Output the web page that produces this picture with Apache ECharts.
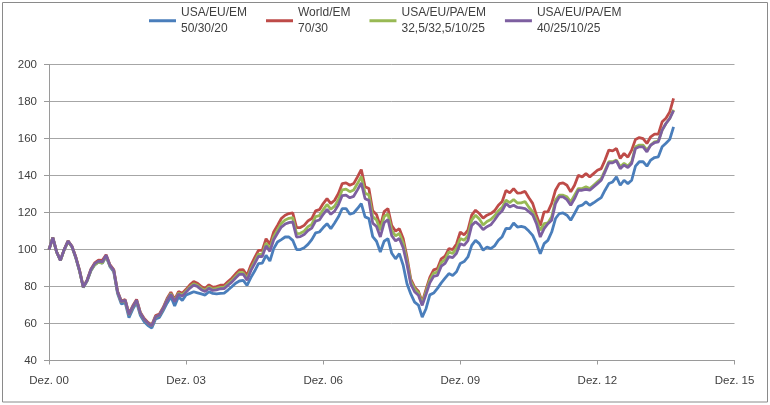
<!DOCTYPE html>
<html>
<head>
<meta charset="utf-8">
<script src="https://cdn.jsdelivr.net/npm/echarts@6/dist/echarts.min.js"></script>
<style>html,body{margin:0;padding:0;background:#fff}#c{width:770px;height:405px}</style>
</head>
<body>
<div id="c"></div>
<script>
// Month index 0 = Dez. 00, 180 = Dez. 15
var xTickLabels = ['Dez. 00','Dez. 03','Dez. 06','Dez. 09','Dez. 12','Dez. 15'];
var yTicks = [40,60,80,100,120,140,160,180,200];
var seriesNames = ['USA/EU/EM\n50/30/20','World/EM\n70/30','USA/EU/PA/EM\n32,5/32,5/10/25','USA/EU/PA/EM\n40/25/10/25'];

var usaEuEm = [100,106.5,98.7,94.2,100,104.5,101.6,95.8,88.5,79.5,83,88.6,91.8,93.2,92.6,96.2,90.8,88,76.2,70.6,71.3,63.2,67.8,71.4,64.3,61,58.9,57.6,62.5,63.3,67,
71,74.5,69.5,74.5,72.5,75.4,76.3,77.2,76.6,76,75.4,77.2,76.3,76,76.3,76.5,78.1,79.9,81.8,83,
83.3,80.6,84.8,88.4,92.4,92.7,96.9,93.8,100.5,104.1,105.4,106.8,106.8,105,100,100,101,102.8,105.4,109,109.5,111.9,114,111.3,114.4,117.7,122.2,122.2,119.1,119.8,122.2,124.9,117.7,116.8,107,104.5,
98.7,104.5,105.9,98,95,97.8,91.5,81.5,76,71.6,70,63.5,68,75.5,76.5,79,82,84.5,87,86,88,92.5,93.5,96,102.3,105,103.2,99.6,101.4,100.5,102,105,107,111.5,111.3,114.4,112.2,112.5,112,110,107.7,103.2,97.8,
103.2,105,109.5,116.8,119.5,119.8,118.6,115.9,119.5,123.4,124,125.8,124,125.3,126.7,128.1,132.1,135.7,136.6,139.3,134.8,137.5,135.7,137.5,145.1,147.5,147.5,145.1,148.4,149.8,150.2,155.6,157.5,159.6,166.4];

var worldEm = [100,106.6,98.8,94.3,100.1,104.7,101.9,96.2,89,79.8,83.5,89.4,92.8,94.3,94.2,97.2,91.8,89.2,77.5,72.2,73,65.3,69.6,73,66,62.7,60.6,59.3,64.3,65.2,68.8,
73.5,77,73,77.3,76.4,78.5,80.9,82.7,81.8,80,79,80.9,79.6,80,80.7,80.7,82.7,84.5,86.9,89,
89.1,86,91.5,95.6,99.6,99.6,105.9,102.8,109.5,113.1,116.8,118.6,119.5,119.8,111.9,111.9,113.1,115.5,116.8,120.9,121.6,124.9,127.6,124.9,126.7,130.3,135.7,136.1,134.8,135.7,139.3,143.3,134,133,121,119,
112.5,120.5,122.2,113,110,111.3,106,96,84,79.7,77.5,71.6,78.5,85,89,89.7,95,96.5,100.5,100,103,109.5,108,110.5,118.6,121.3,119.5,117,118.6,119.5,121,124,126,132,130.7,133,130.5,130.7,131.5,128,125,118.6,113,
120.4,120.4,125,132.1,135.7,136.1,134.8,131.2,134.8,140.2,139.3,141.1,139.3,141.1,142.9,143.8,148.4,153.8,153.4,154.7,149.3,152,150,153.8,159.6,160.6,160,157.4,161,162.4,162.4,169.1,171,174.5,181.8];

var usaEuPaEm1 = [100,106.4,98.6,94.1,99.9,104.4,101.6,95.9,88.6,79.6,83.1,88.7,91.8,93.2,92.7,96.5,91.2,88.6,77,71.7,72.4,64.7,68.9,72.4,65.4,62.1,60,58.8,63.6,64.5,68.1,
72.8,76.2,72.2,76.4,75.5,77.6,79.8,81.5,80.7,79,78,79.8,78.6,79,79.6,79.6,81.5,83.2,85.5,87.6,
87.5,84.3,89.6,93.5,97.5,97.4,103.5,100.4,107,110.6,114.2,116,116.9,117.3,108.6,108.8,110,112.4,113.6,117.8,118.4,121.6,124.4,121.8,123.5,127,132.3,132.7,131.3,132.2,135.7,139.5,130.5,129.6,117.8,116,
110.5,117.8,119.3,110.3,107.4,108.7,103.5,94,82.8,78.7,76.6,70.7,77.2,83.5,87.3,87.8,93,94.5,98.7,97.9,100.6,106,105,107.5,115.9,118.6,116.5,113.3,115.2,116.3,118.3,121,122.8,126.7,125.4,127.1,125.2,125.3,126,122.9,120.5,115.8,110.4,
114,114.4,117.7,126.7,129.4,129.4,128.5,125.8,129.4,133,133,133.9,133,134.8,136.6,138.4,142.9,147.5,147.5,148.4,144.8,146.6,145.1,147.5,155.6,156.5,156.5,153.8,156.5,158.3,158.7,164.6,168.2,170.9,175.6];

var usaEuPaEm2 = [100,106.5,98.7,94.2,100,104.6,101.8,96,88.8,79.7,83.3,89.1,92.4,93.8,93.3,96.9,91.5,88.8,77.2,71.8,72.6,64.8,69.1,72.6,65.5,62.2,60.1,58.8,63.7,64.6,68.2,
72.5,75.8,71.8,75.9,74.8,77,79.2,80.8,80,78.3,77.3,79.1,77.9,78.2,78.8,78.9,80.7,82.4,84.6,86.6,
86.6,83.4,88.6,92.4,96.3,96.2,102,99,105.3,108.8,112.2,113.8,114.6,115,106.8,107,108.1,110.3,111.6,115.4,116,119.1,121.7,119.1,120.8,124.2,129.2,129.5,128,128.8,132.3,136,127.5,126.6,114.3,112.5,
106.8,114.5,116.2,107.5,104.7,106,101,92,81.3,77.2,75.3,69.8,75.8,82,85.5,86,91,92.5,96.2,95.6,98,103.2,102.3,104.8,113.1,115,113.3,110.8,112.4,113.4,116,119,121,124.9,123.1,124,122.8,122.5,122.2,120.5,118.8,114,106.8,
111.3,114,115.9,124.9,128.5,128.5,127,124,127.6,132.1,132.1,132.5,132.1,133.9,135.7,137.5,142,146.9,146.9,148,143.8,145.7,144.4,146.6,154.7,155.6,155.6,152.9,156.5,157.8,158.3,164.6,168.2,170.9,175.2];

var seriesValues = [usaEuEm, worldEm, usaEuPaEm1, usaEuPaEm2];
var colors = ['#4A7EBB','#BE4B48','#98B954','#7D5FA0'];

function toPairs(arr){ return arr.map(function(v,i){ return [i, v]; }); }

var chart = echarts.init(document.getElementById('c'), null, {renderer:'canvas'});
var font = 'Liberation Sans, Arial, sans-serif';
chart.setOption({
  animation: false,
  backgroundColor: '#fff',
  textStyle: {fontFamily: font},
  graphic: [{
    type: 'rect', silent: true,
    shape: {x: 2.5, y: 2.5, width: 765, height: 399.5},
    style: {fill: 'none', stroke: '#8a8a8a', lineWidth: 1}
  }],
  legend: {
    left: 149, top: -2.5, padding: 0, itemGap: 19,
    itemWidth: 27, itemHeight: 3, icon: 'rect',
    textStyle: {fontSize: 12, color: '#404040', lineHeight: 15.5, padding: [15.5, 0, 0, 0], fontFamily: font},
    data: seriesNames
  },
  grid: {left: 49, right: 35.5, top: 64.7, bottom: 44.5, containLabel: false},
  xAxis: {
    type: 'value', min: 0, max: 180, interval: 36,
    axisLine: {show: true, lineStyle: {color: '#9a9a9a', width: 1}},
    axisTick: {show: true, length: 4, lineStyle: {color: '#9a9a9a'}},
    splitLine: {show: false},
    axisLabel: {
      color: '#404040', fontSize: 11.5, margin: 14, fontFamily: font,
      formatter: function(v){ return xTickLabels[Math.round(v/36)]; }
    }
  },
  yAxis: {
    type: 'value', min: 40, max: 200, interval: 20,
    axisLine: {show: true, lineStyle: {color: '#9a9a9a', width: 1}},
    axisTick: {show: true, length: 5, lineStyle: {color: '#9a9a9a'}},
    splitLine: {show: true, lineStyle: {color: '#a6a6a6', width: 1}},
    axisLabel: {color: '#404040', fontSize: 11.5, margin: 12, fontFamily: font,
      formatter: function(v){ return yTicks.indexOf(v) >= 0 ? String(v) : ''; }}
  },
  series: seriesValues.map(function(vals, k){
    return {
      name: seriesNames[k], type: 'line', data: toPairs(vals),
      symbol: 'none', smooth: false,
      lineStyle: {color: colors[k], width: 2.8},
      itemStyle: {color: colors[k]}
    };
  })
});
</script>
</body>
</html>
